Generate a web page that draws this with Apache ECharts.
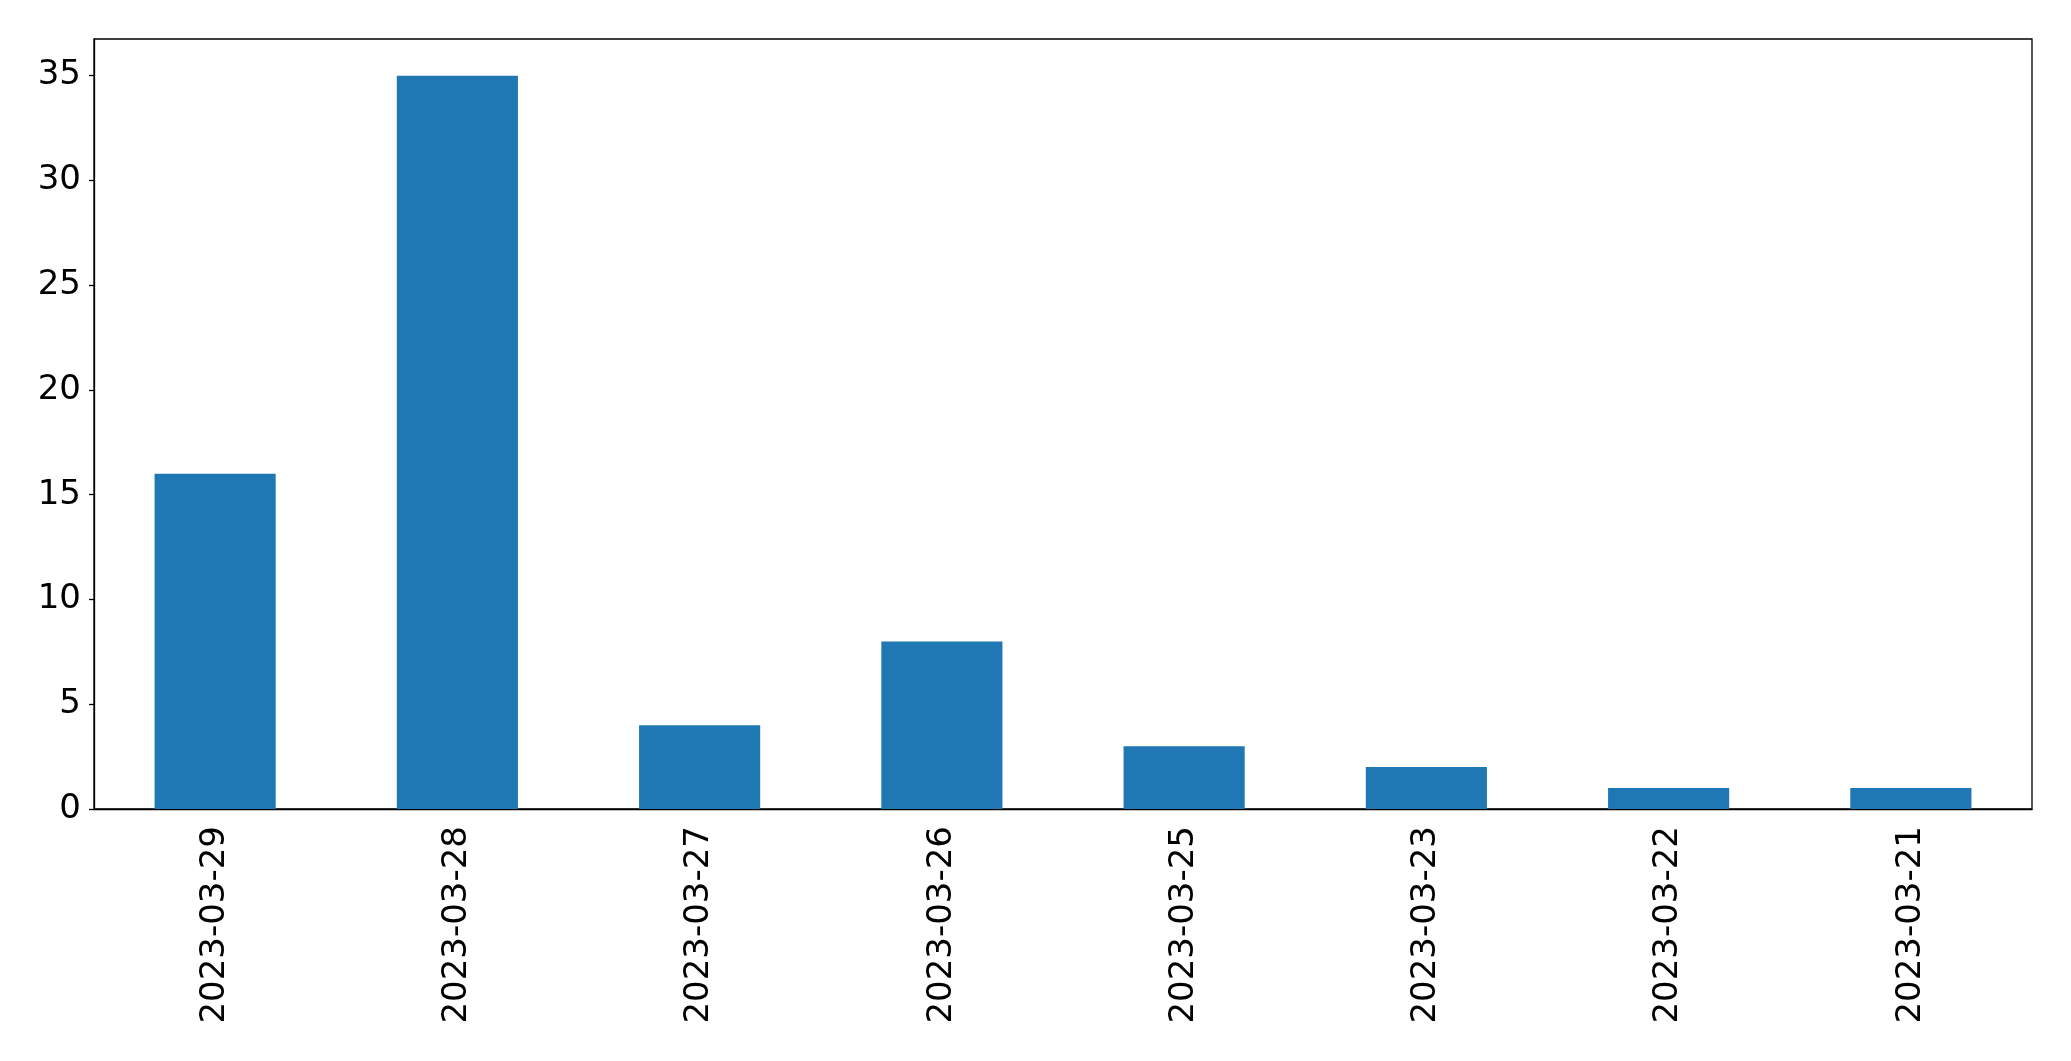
<!DOCTYPE html>
<html><head><meta charset="utf-8">
<script src="https://cdn.jsdelivr.net/npm/echarts@6/dist/echarts.min.js"></script>
<style>html,body{margin:0;padding:0;background:#fff}#c{width:2071px;height:1061px}</style>
</head><body><div id="c"></div>
<script>
const categories = ["2023-03-29","2023-03-28","2023-03-27","2023-03-26","2023-03-25","2023-03-23","2023-03-22","2023-03-21"];
const values = [16, 35, 4, 8, 3, 2, 1, 1];
const yTicks = [0, 5, 10, 15, 20, 25, 30, 35];

const chart = echarts.init(document.getElementById('c'), null, {renderer: 'canvas'});
const font = 'DejaVu Sans';
chart.setOption({
  animation: false,
  backgroundColor: '#fff',
  grid: {left: 94, right: 39, top: 39, bottom: 252, show: true, borderColor: '#000', borderWidth: 1.3, backgroundColor: 'transparent'},
  xAxis: {
    type: 'category', data: categories, boundaryGap: true,
    axisLine: {lineStyle: {color: '#000', width: 1.3}},
    axisTick: {alignWithLabel: true, length: 5, lineStyle: {color: '#000', width: 1.3}},
    axisLabel: {rotate: 90, fontFamily: font, fontSize: 34, color: '#000', margin: 17, interval: 0}
  },
  yAxis: {
    type: 'value', min: 0, max: 36.75, interval: 5,
    splitLine: {show: false},
    axisLine: {show: true, lineStyle: {color: '#000', width: 1.3}},
    axisTick: {show: true, length: 5, lineStyle: {color: '#000', width: 1.3}},
    axisLabel: {fontFamily: font, fontSize: 34, color: '#000', margin: 13, showMaxLabel: false,
      formatter: v => yTicks.includes(v) ? String(v) : ''}
  },
  series: [{type: 'bar', data: values, barWidth: '50%', itemStyle: {color: '#1f77b4'}}]
});
</script></body></html>
